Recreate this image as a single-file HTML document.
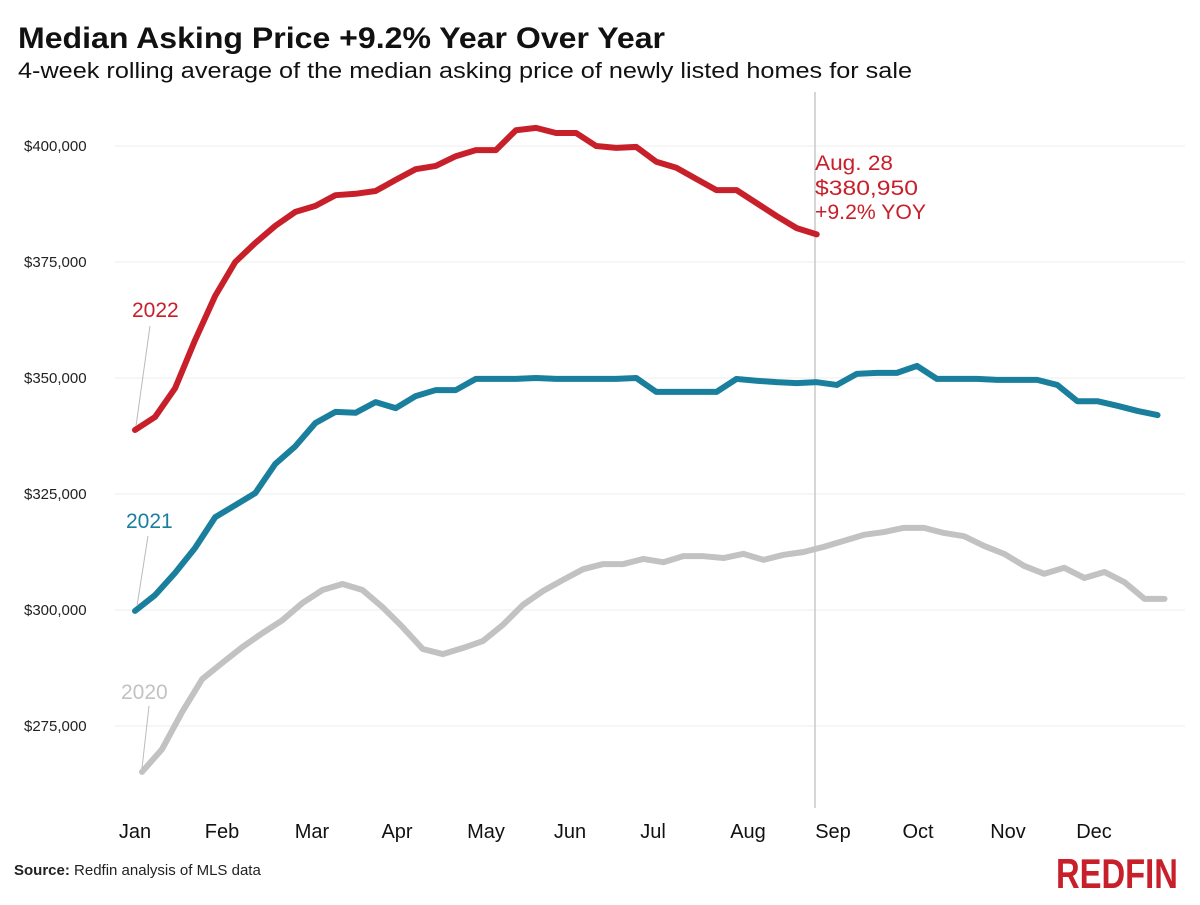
<!DOCTYPE html>
<html><head><meta charset="utf-8"><style>
body{margin:0;background:#fff;width:1200px;height:900px;overflow:hidden;font-family:"Liberation Sans",sans-serif}
</style></head><body>
<svg width="1200" height="900" xmlns="http://www.w3.org/2000/svg">
<text x="18" y="48" font-size="30" font-weight="bold" fill="#111" textLength="647" lengthAdjust="spacingAndGlyphs">Median Asking Price +9.2% Year Over Year</text>
<text x="18" y="78" font-size="22" fill="#111" textLength="894" lengthAdjust="spacingAndGlyphs">4-week rolling average of the median asking price of newly listed homes for sale</text>
<g id="grid"></g>
<g id="ylab"></g>
<g id="xlab"></g>
<line x1="815" y1="92" x2="815" y2="808" stroke="#c8c8c8" stroke-width="1.5"/>
<g id="series"></g>
<g>
<line x1="150" y1="326" x2="136" y2="426" stroke="#bbb" stroke-width="1"/>
<text x="132" y="317" font-size="21" fill="#c8202a">2022</text>
<line x1="148" y1="536" x2="137" y2="606" stroke="#bbb" stroke-width="1"/>
<text x="126" y="528" font-size="21" fill="#1a7f9c">2021</text>
<line x1="149" y1="706" x2="142" y2="768" stroke="#bbb" stroke-width="1"/>
<text x="121" y="699" font-size="21" fill="#c2c2c2">2020</text>
</g>
<g fill="#c8202a" font-size="21">
<text x="815" y="170" textLength="78" lengthAdjust="spacingAndGlyphs">Aug. 28</text><text x="815" y="195" textLength="103" lengthAdjust="spacingAndGlyphs">$380,950</text><text x="815" y="219" textLength="111" lengthAdjust="spacingAndGlyphs">+9.2% YOY</text>
</g>
<text x="14" y="875" font-size="15" fill="#222"><tspan font-weight="bold">Source:</tspan> Redfin analysis of MLS data</text>
<text x="0" y="0" transform="translate(1056,888) scale(0.78,1)" font-size="42" font-weight="bold" fill="#c8202a">REDFIN</text>
</svg>
<script>
const yTicks=[275000,300000,325000,350000,375000,400000];
const months=["Jan","Feb","Mar","Apr","May","Jun","Jul","Aug","Sep","Oct","Nov","Dec"];
const monthX=[135,222,312,397,486,570,653,748,833,918,1008,1094];
const s2022=[338.8,341.6,347.8,358.2,367.7,375,379.1,382.8,385.8,387.1,389.4,389.7,390.3,392.7,395.0,395.7,397.8,399.1,399.1,403.4,403.9,402.8,402.8,400,399.6,399.8,396.6,395.3,392.9,390.5,390.5,387.7,384.9,382.3,380.95];
const s2021=[299.8,303.2,308.0,313.4,320.0,322.6,325.2,331.5,335.3,340.3,342.7,342.5,344.8,343.5,346.1,347.4,347.4,349.8,349.8,349.8,350,349.8,349.8,349.8,349.8,350,347.0,347.0,347.0,347.0,349.8,349.4,349.1,348.9,349.1,348.5,350.9,351.1,351.1,352.6,349.8,349.8,349.8,349.6,349.6,349.6,348.5,345.0,345.0,344.0,342.9,342.0];
const s2020=[265.1,270.0,278.0,285.1,288.6,292.0,295.0,297.8,301.5,304.3,305.6,304.3,300.6,296.3,291.6,290.5,291.8,293.3,296.8,301.1,304.1,306.5,308.8,309.9,309.9,311.0,310.3,311.6,311.6,311.2,312.1,310.8,311.9,312.5,313.6,314.9,316.2,316.8,317.7,317.7,316.6,315.9,313.8,312.1,309.5,307.8,309.1,306.9,308.2,306.0,302.4,302.4];
const NS="http://www.w3.org/2000/svg";
function y(v){return 146+(400000-v)*116/25000;}
function xw(i,off){return 135+off+i*20.05;}
function mk(t,a,p){const e=document.createElementNS(NS,t);for(const k in a)e.setAttribute(k,a[k]);p.appendChild(e);return e;}
const grid=document.getElementById('grid'),yl=document.getElementById('ylab'),xl=document.getElementById('xlab'),se=document.getElementById('series');
yTicks.forEach(v=>{
 const l=mk('line',{x1:115,x2:1185,y1:y(v),y2:y(v),stroke:'#ececec','stroke-width':1},grid);
 
 
 const t=mk('text',{x:24,y:y(v)+5,'font-size':15,fill:'#222'},yl);
 t.textContent='$'+v.toLocaleString('en-US');
 
 
});
months.forEach((m,i)=>{
 const t=mk('text',{x:monthX[i],y:838,'font-size':20,fill:'#111','text-anchor':'middle'},xl);
 t.textContent=m;
 
 
});
[[s2020,'#c2c2c2',7,'line-2020'],[s2021,'#1a7f9c',0,'line-2021'],[s2022,'#c8202a',0,'line-2022']].forEach(([d,c,off,n])=>{
 const p=mk('polyline',{points:d.map((v,i)=>xw(i,off)+','+y(v*1000)).join(' '),fill:'none',stroke:c,'stroke-width':6,'stroke-linejoin':'round','stroke-linecap':'round'},se);
 
 
});
</script>
</body></html>
